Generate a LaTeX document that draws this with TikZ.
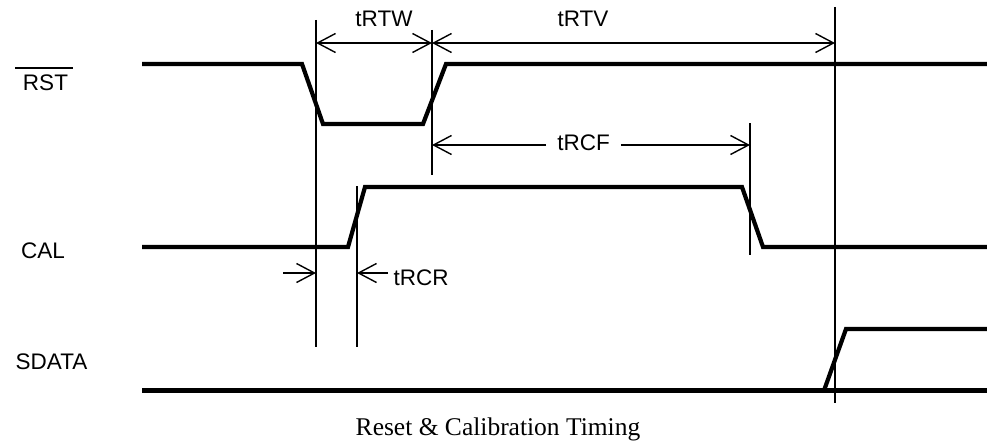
\documentclass[tikz,border=0pt]{standalone}
\usepackage{fontspec}
\setmainfont{Liberation Serif}
\newfontfamily\labelfont{Liberation Sans}
\usetikzlibrary{arrows.meta}
\tikzset{
  sig/.style={line width=4.2pt},
  marker/.style={line width=1.4pt},
  dim/.style={line width=1.4pt},
  barb/.tip={Straight Barb[length=18pt,width=19pt,line width=1.4pt]},
  lbl/.style={font=\labelfont\fontsize{22.5}{26}\selectfont, inner sep=0pt, anchor=base},
  captext/.style={font=\fontsize{25.5}{30}\selectfont, inner sep=0pt, anchor=base}
}
\begin{document}
\begin{tikzpicture}[x=1pt,y=-1pt]
\useasboundingbox (0,0) rectangle (987,444);
% marker coordinates
\coordinate (v1t) at (316,20);  \coordinate (v1b) at (316,347);
\coordinate (v2t) at (432,30);  \coordinate (v2b) at (432,175);
\coordinate (v3t) at (357,186); \coordinate (v3b) at (357,347);
\coordinate (v4t) at (750,123); \coordinate (v4b) at (750,255);
\coordinate (v5t) at (835,7);   \coordinate (v5b) at (835,403);
% vertical markers
\draw[marker] (v1t) -- (v1b);
\draw[marker] (v2t) -- (v2b);
\draw[marker] (v3t) -- (v3b);
\draw[marker] (v4t) -- (v4b);
\draw[marker] (v5t) -- (v5b);
% signal labels
\node[lbl] (rst) at (45.5,90) {RST};
\draw[line width=1.3pt] (15,68) -- (73,68);
\node[lbl] (cal) at (43,258) {CAL};
\node[lbl] (sdata) at (51.5,369) {SDATA};
% signals
\draw[sig] (142,64) -- (302,64) -- (323,124) -- (423,124) -- (446,64) -- (987,64);
\draw[sig] (142,247) -- (348,247) -- (365,187) -- (742,187) -- (763,247) -- (987,247);
\draw[sig] (142,390.5) -- (987,390.5);
\draw[sig] (824,390.5) -- (846,329) -- (987,329);
% dimension arrows
\coordinate (a1) at (316,43); \coordinate (a2) at (432,43); \coordinate (a3) at (835,43);
\draw[dim,barb-barb] (a1) -- (a2);
\draw[dim,barb-barb] (a2) -- (a3);
\node[lbl] (trtw) at (384,27) {tRTW};
\node[lbl] (trtv) at (583,27) {tRTV};
\coordinate (c1) at (432,145); \coordinate (c2) at (750,145);
\node[lbl,anchor=center,inner xsep=11pt] (trcf) at (583.5,142.5) {tRCF};
\draw[dim,-barb] (trcf.west |- c1) -- (c1);
\draw[dim,-barb] (trcf.east |- c2) -- (c2);
\coordinate (r1s) at (283,273); \coordinate (r1e) at (316,273);
\coordinate (r2s) at (388,273); \coordinate (r2e) at (357,273);
\draw[dim,-barb] (r1s) -- (r1e);
\draw[dim,-barb] (r2s) -- (r2e);
\node[lbl] (trcr) at (421,285) {tRCR};
% caption
\node[captext] (caption) at (498,435) {Reset \& Calibration Timing};
\end{tikzpicture}
\end{document}
